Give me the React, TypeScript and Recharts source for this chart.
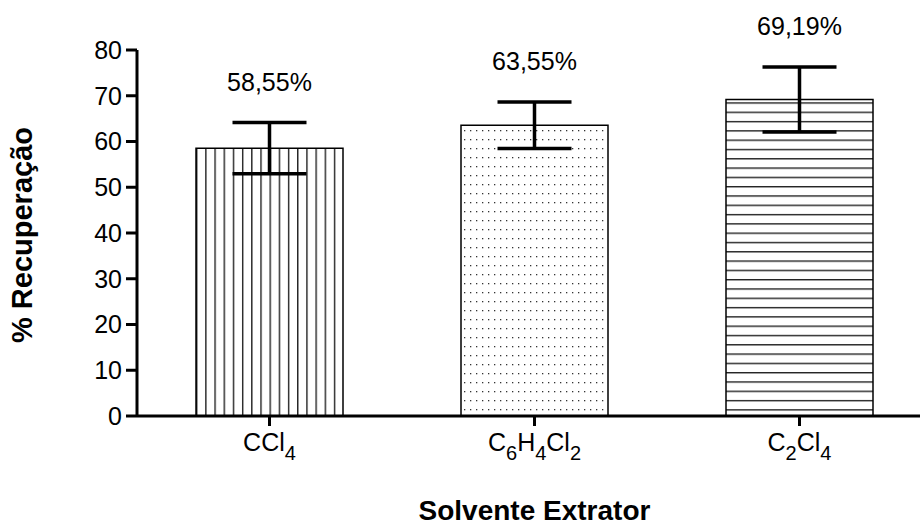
import { BarChart, Bar, XAxis, YAxis, ErrorBar, Cell, LabelList, Label } from "recharts";

const solvents = ["CCl4", "C6H4Cl2", "C2Cl4"];
const recovery = [58.55, 63.55, 69.19];
const deviation = [5.6, 5.1, 7.1];
const yTicks = [0, 10, 20, 30, 40, 50, 60, 70, 80];

const FONT = '"Liberation Sans", Arial, sans-serif';
const FILLS = ["url(#vlines)", "url(#dots)", "url(#hlines)"];

const data = solvents.map((name, i) => ({
  name,
  value: recovery[i],
  err: deviation[i],
}));

// splits "C6H4Cl2" into element symbols and subscript counts
function FormulaTick({ x, y, payload }: any) {
  const parts = String(payload.value).split(/(\d+)/).filter(Boolean);
  const nodes: any[] = [];
  let sub = false;
  parts.forEach((p, i) => {
    const isNum = /^\d+$/.test(p);
    const dy = isNum && !sub ? 9 : !isNum && sub ? -9 : 0;
    sub = isNum;
    nodes.push(
      <tspan key={i} dy={dy} fontSize={isNum ? 20 : 25}>
        {p}
      </tspan>
    );
  });
  return (
    <text x={x} y={y + 25} textAnchor="middle" fontFamily={FONT} fill="#000">
      {nodes}
    </text>
  );
}

function ValueLabel({ x, y, width, height, value, index }: any) {
  const pxPerUnit = height / value;
  const top = y - deviation[index] * pxPerUnit;
  return (
    <text
      x={x + width / 2}
      y={top - 32}
      textAnchor="middle"
      fontFamily={FONT}
      fontSize={25}
      fill="#000"
    >
      {value.toFixed(2).replace(".", ",") + "%"}
    </text>
  );
}

export default function App() {
  return (
    <div
      style={{
        position: "absolute",
        left: 0,
        top: 0,
        width: 920,
        height: 527,
        overflow: "hidden",
        background: "#fff",
      }}
    >
      <BarChart
        width={932}
        height={527}
        data={data}
        margin={{ top: 50, right: 0, bottom: 51, left: 0 }}
        barCategoryGap={59}
      >
        <defs>
          <pattern id="vlines" patternUnits="objectBoundingBox" width={0.0625} height={1}>
            <rect x={0} y={0} width={1.4} height={400} fill="#222" />
          </pattern>
          <pattern id="dots" patternUnits="userSpaceOnUse" width={6} height={9}>
            <rect x={2} y={4} width={1.3} height={1.3} fill="#333" />
          </pattern>
          <pattern id="hlines" patternUnits="userSpaceOnUse" width={10} height={9.3}>
            <rect x={0} y={0} width={10} height={1.4} fill="#222" />
          </pattern>
        </defs>
        <XAxis
          dataKey="name"
          height={60}
          axisLine={{ stroke: "#000", strokeWidth: 3 }}
          tickLine={{ stroke: "#000", strokeWidth: 3 }}
          tickSize={10}
          tickMargin={0}
          tick={<FormulaTick />}
          interval={0}
        >
          <Label
            content={({ viewBox }: any) => (
              <text
                x={viewBox.x + viewBox.width / 2}
                y={viewBox.y + 104}
                textAnchor="middle"
                fontFamily={FONT}
                fontWeight="bold"
                fontSize={28}
                fill="#000"
              >
                Solvente Extrator
              </text>
            )}
          />
        </XAxis>
        <YAxis
          width={137}
          domain={[0, 80]}
          ticks={yTicks}
          interval={0}
          axisLine={{ stroke: "#000", strokeWidth: 3 }}
          tickLine={{ stroke: "#000", strokeWidth: 3 }}
          tickSize={11}
          tickMargin={4}
          tick={{ fontFamily: FONT, fontSize: 25, fill: "#000" }}
        >
          <Label
            content={({ viewBox }: any) => {
              const cx = 22;
              const cy = viewBox.y + viewBox.height / 2 + 2;
              return (
                <text
                  x={cx}
                  y={cy}
                  transform={`rotate(-90 ${cx} ${cy})`}
                  textAnchor="middle"
                  dominantBaseline="central"
                  fontFamily={FONT}
                  fontWeight="bold"
                  fontSize={29}
                  fill="#000"
                >
                  % Recuperação
                </text>
              );
            }}
          />
        </YAxis>
        <Bar dataKey="value" stroke="#000" strokeWidth={1.5} isAnimationActive={false}>
          {data.map((d, i) => (
            <Cell key={d.name} fill={FILLS[i]} />
          ))}
          <ErrorBar
            dataKey="err"
            width={37}
            stroke="#000"
            strokeWidth={3.5}
            direction="y"
            isAnimationActive={false}
          />
          <LabelList dataKey="value" content={<ValueLabel />} />
        </Bar>
      </BarChart>
    </div>
  );
}
